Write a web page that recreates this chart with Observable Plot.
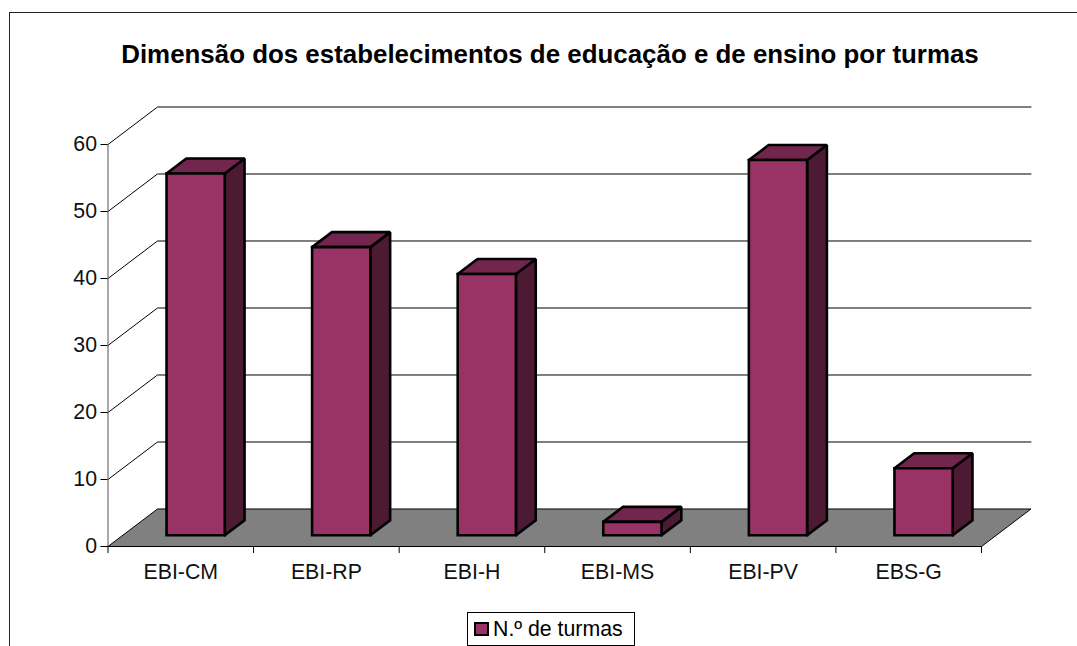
<!DOCTYPE html>
<html lang="pt">
<head>
<meta charset="utf-8">
<script src="https://cdn.jsdelivr.net/npm/d3@7"></script>
<script src="https://cdn.jsdelivr.net/npm/@observablehq/plot@0.6"></script>
<style>
html,body{margin:0;padding:0;background:#fff;width:1077px;height:646px;overflow:hidden;font-family:"Liberation Sans",Arial,sans-serif;color:#000}
#frame{position:absolute;left:9px;top:12px;right:-2px;bottom:-2px;border:1.5px solid #222;box-sizing:border-box}
#title{position:absolute;left:0;width:1100px;top:39px;text-align:center;font-weight:bold;font-size:25.9px;line-height:30px;white-space:nowrap}
#chart{position:absolute;left:0;top:0}
#legend{position:absolute;left:467px;top:612px;width:168px;height:34px;border:1px solid #000;box-sizing:border-box;background:#fff;font-size:21.3px;line-height:30px;white-space:nowrap}
#legend i{position:absolute;left:6px;top:9px;width:15px;height:14px;background:#993366;border:2px solid #000;box-sizing:border-box}
#legend span{position:absolute;left:25px;top:1px}
</style>
</head>
<body>
<div id="frame"></div>
<div id="chart"></div>
<div id="title">Dimensão dos estabelecimentos de educação e de ensino por turmas</div>
<div id="legend"><i></i><span>N.º de turmas</span></div>
<script>
const categories = ["EBI-CM", "EBI-RP", "EBI-H", "EBI-MS", "EBI-PV", "EBS-G"];
const turmas = [54, 43, 39, 2, 56, 10];
const gridValues = [10, 20, 30, 40, 50, 60];
const yTicks = [0, 10, 20, 30, 40, 50, 60];
const colors = {front: "#993366", top: "#73264d", side: "#4d1a33", floor: "#808080"};

// oblique projection of the 3D chart into the (category, value) plane
const depthX = 0.34, depthY = 5.6;
const p = (c, v, d) => ({x: c + d * depthX, y: v + d * depthY});
const near = 0.3, far = 0.7, left = 0.3, right = 0.7;

const poly = (id, pts) => pts.map(([c, v, d]) => ({id, ...p(c, v, d)}));
const front = categories.flatMap((n, i) => poly(n, [[i+left,0,near],[i+right,0,near],[i+right,turmas[i],near],[i+left,turmas[i],near],[i+left,0,near],[i+right,0,near]]));
const side = categories.flatMap((n, i) => poly(n, [[i+right,0,near],[i+right,0,far],[i+right,turmas[i],far],[i+right,turmas[i],near],[i+right,0,near],[i+right,0,far]]));
const top_ = categories.flatMap((n, i) => poly(n, [[i+left,turmas[i],near],[i+right,turmas[i],near],[i+right,turmas[i],far],[i+left,turmas[i],far],[i+left,turmas[i],near],[i+right,turmas[i],near]]));
const floor = poly("floor", [[0,0,0],[6,0,0],[6,0,1],[0,0,1],[0,0,0]]);
const grid = gridValues.flatMap(v => poly(v, [[0,v,0],[0,v,1],[6,v,1]]));
const face = (data, fill, sw = 2.6) => Plot.line(data, {x: "x", y: "y", z: "id", fill, stroke: "#000", strokeWidth: sw, strokeLinejoin: "miter", strokeMiterlimit: 2});

const plot = Plot.plot({
  width: 1077, height: 646,
  marginLeft: 107.5, marginRight: 46.5, marginTop: 106.5, marginBottom: 100,
  style: {background: "transparent", fontFamily: "'Liberation Sans', Arial, sans-serif", overflow: "visible"},
  x: {type: "linear", domain: [0, 6 + depthX]},
  y: {type: "linear", domain: [0, 60 + depthY]},
  marks: [
    Plot.line(grid, {x: "x", y: "y", z: "id", stroke: "#000", strokeWidth: 1}),
    Plot.ruleX([0], {y1: 0, y2: 60, stroke: "#555", strokeWidth: 1}),
    face(floor, colors.floor, 1),
    Plot.axisY({ticks: yTicks, tickSize: 7, tickPadding: 4, fontSize: 21.3, label: null, stroke: "#000", color: "#111"}),
    Plot.axisX({ticks: d3.range(0, 7), tickSize: 7, tickFormat: () => "", label: null, stroke: "#000"}),
    Plot.text(categories, {x: (d, i) => i + 0.5, y: 0, text: d => d, dy: 25.5, fontSize: 21.3, fill: "#111"}),
    Plot.ruleY([0], {x1: 0, x2: 6, stroke: "#000", strokeWidth: 1}),
    face(side, colors.side),
    face(top_, colors.top),
    face(front, colors.front)
  ]
});
document.getElementById("chart").append(plot);
</script>
</body>
</html>
